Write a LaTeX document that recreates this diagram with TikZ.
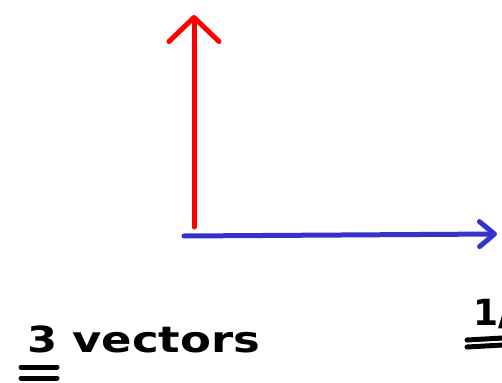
\documentclass[tikz,border=0pt]{standalone}
\usepackage{fontspec}
\setmainfont{DejaVu Sans}
\usetikzlibrary{arrows.meta}
\definecolor{penred}{RGB}{255,0,0}
\definecolor{penblue}{RGB}{52,52,204}
\tikzset{
  pen/.style={line width=5pt, line cap=round, line join=round},
  ink/.style={pen, black},
  hand/.style={font=\fontsize{36}{40}\selectfont\bfseries, inner sep=0pt, anchor=base west},
}
\begin{document}
\begin{tikzpicture}[x=1pt,y=1pt]
\useasboundingbox (0,0) rectangle (502,-382);
\clip (0,0) rectangle (502,-382);
% red vertical vector
\coordinate (rs) at (194,-227);
\coordinate (rt) at (194,-15);
\draw[pen, penred, -{Straight Barb[length=24pt,width=50pt,line cap=round,line join=round]}] (rs) -- (rt);
% blue horizontal vector
\coordinate (bs) at (184,-236);
\coordinate (bt) at (497,-234);
\draw[pen, penblue, -{Straight Barb[length=15pt,width=25pt,line cap=round,line join=round]}] (bs) -- (bt);
% labels
\node[hand, xscale=1.2] (three) at (27,-352) {3};
\node[hand, xscale=1.25] (vec) at (72,-352) {vectors};
\coordinate (u1a) at (21,-367); \coordinate (u1b) at (57,-367);
\coordinate (u2a) at (21,-378); \coordinate (u2b) at (57,-378);
\draw[ink] (u1a) -- (u1b);
\draw[ink] (u2a) -- (u2b);
\node[hand] (frac) at (473,-325) {1/};
\coordinate (u3a) at (467,-340); \coordinate (u3b) at (503,-338);
\coordinate (u4a) at (467,-347); \coordinate (u4b) at (503,-345);
\draw[ink] (u3a) -- (u3b);
\draw[ink] (u4a) -- (u4b);
\end{tikzpicture}
\end{document}
